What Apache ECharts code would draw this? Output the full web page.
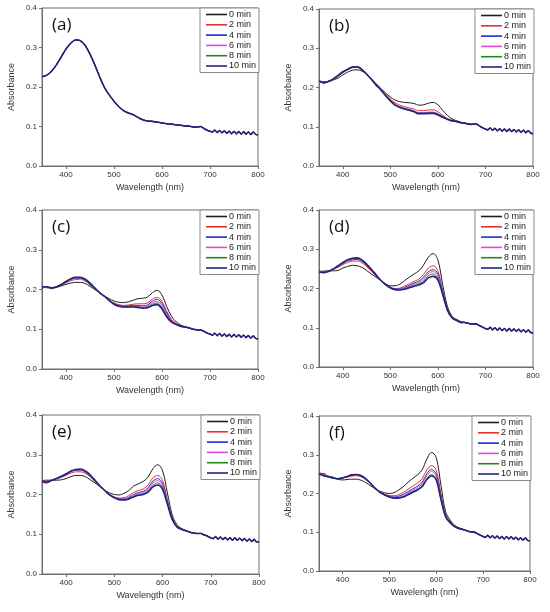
<!DOCTYPE html>
<html>
<head>
<meta charset="utf-8">
<script src="https://cdn.jsdelivr.net/npm/echarts@6/dist/echarts.min.js"></script>
<style>
html,body{margin:0;padding:0;background:#fff;}
#chart{width:550px;height:612px;}
</style>
</head>
<body>
<div id="chart"></div>
<script>
// Wavelength sample points (nm)
const wlHead = [350,360,370,380,390,400,410,420,430,440,450,460,470,480,490,500,510,520,530,540,550,560,570,580,590,600,610,620,630,640,650];
const wlTail = [655,660,665,670,675,680,685,690,695,700,705,710,715,720,725,730,735,740,745,750,755,760,765,770,775,780,785,790,795,800];

const seriesNames = ['0 min','2 min','4 min','6 min','8 min','10 min'];
const panelLabels = ['(a)','(b)','(c)','(d)','(e)','(f)'];
const xTicks = [400,500,600,700,800];
const yTicks = [0,0.1,0.2,0.3,0.4];

// Panel (a): all six spectra coincide
const aHead = [0.226,0.230,0.240,0.256,0.276,0.296,0.311,0.319,0.317,0.305,0.283,0.256,0.226,0.199,0.180,0.164,0.150,0.140,0.134,0.130,0.123,0.117,0.114,0.113,0.111,0.109,0.107,0.106,0.104,0.103,0.101];
const aTail = [0.101,0.100,0.099,0.098,0.099,0.100,0.097,0.093,0.090,0.088,0.086,0.091,0.085,0.090,0.084,0.089,0.083,0.088,0.082,0.088,0.082,0.087,0.081,0.087,0.081,0.086,0.080,0.086,0.080,0.079];

// Panel (b)
const b0  = [0.217,0.215,0.215,0.219,0.224,0.232,0.239,0.244,0.245,0.242,0.234,0.222,0.210,0.198,0.186,0.176,0.168,0.164,0.162,0.161,0.159,0.155,0.156,0.160,0.162,0.156,0.142,0.129,0.120,0.115,0.111];
const b2  = [0.215,0.213,0.216,0.220,0.228,0.237,0.245,0.250,0.251,0.246,0.236,0.222,0.208,0.196,0.183,0.171,0.161,0.155,0.151,0.148,0.145,0.141,0.141,0.143,0.143,0.138,0.129,0.121,0.116,0.113,0.111];
const b4  = [0.216,0.211,0.216,0.221,0.230,0.239,0.246,0.252,0.253,0.247,0.235,0.221,0.207,0.195,0.181,0.168,0.157,0.151,0.147,0.144,0.140,0.136,0.136,0.137,0.137,0.133,0.126,0.120,0.116,0.113,0.110];
const b6  = [0.214,0.213,0.215,0.221,0.230,0.239,0.246,0.251,0.252,0.247,0.235,0.221,0.207,0.195,0.180,0.167,0.157,0.150,0.146,0.143,0.139,0.135,0.135,0.136,0.136,0.132,0.125,0.120,0.115,0.113,0.110];
const b8  = [0.217,0.212,0.216,0.222,0.231,0.240,0.247,0.252,0.253,0.247,0.234,0.221,0.206,0.194,0.180,0.167,0.156,0.150,0.145,0.142,0.139,0.134,0.134,0.135,0.135,0.131,0.125,0.119,0.115,0.113,0.110];
const b10 = [0.217,0.212,0.216,0.222,0.231,0.240,0.246,0.252,0.253,0.246,0.234,0.221,0.206,0.194,0.179,0.166,0.155,0.149,0.145,0.142,0.138,0.133,0.133,0.134,0.134,0.130,0.124,0.119,0.115,0.113,0.110];
const bTail = [0.110,0.108,0.107,0.106,0.107,0.107,0.104,0.100,0.097,0.094,0.092,0.097,0.091,0.096,0.090,0.095,0.089,0.094,0.088,0.094,0.088,0.093,0.087,0.092,0.086,0.091,0.085,0.090,0.084,0.082];

// Panel (c)
const c0  = [0.203,0.206,0.204,0.206,0.209,0.213,0.216,0.218,0.218,0.215,0.208,0.200,0.191,0.184,0.177,0.171,0.168,0.167,0.169,0.173,0.177,0.178,0.181,0.192,0.198,0.186,0.157,0.132,0.118,0.110,0.106];
const c2  = [0.207,0.205,0.203,0.207,0.212,0.217,0.222,0.225,0.226,0.221,0.212,0.201,0.191,0.183,0.174,0.166,0.162,0.160,0.161,0.163,0.164,0.164,0.166,0.176,0.180,0.170,0.145,0.124,0.114,0.108,0.105];
const c4  = [0.206,0.207,0.202,0.207,0.213,0.219,0.225,0.228,0.228,0.223,0.213,0.202,0.191,0.183,0.173,0.165,0.160,0.158,0.159,0.160,0.160,0.159,0.161,0.171,0.175,0.165,0.141,0.121,0.113,0.108,0.105];
const c6  = [0.208,0.204,0.205,0.207,0.213,0.219,0.226,0.229,0.229,0.224,0.214,0.203,0.191,0.183,0.172,0.164,0.159,0.157,0.157,0.158,0.158,0.156,0.158,0.167,0.170,0.160,0.137,0.120,0.112,0.107,0.105];
const c8  = [0.209,0.206,0.203,0.207,0.213,0.220,0.227,0.230,0.230,0.225,0.215,0.203,0.191,0.183,0.172,0.164,0.158,0.156,0.156,0.157,0.156,0.154,0.156,0.163,0.166,0.155,0.134,0.119,0.112,0.107,0.105];
const c10 = [0.207,0.207,0.204,0.206,0.212,0.220,0.227,0.231,0.231,0.226,0.216,0.204,0.192,0.183,0.172,0.163,0.158,0.156,0.156,0.156,0.155,0.153,0.154,0.160,0.162,0.151,0.131,0.118,0.112,0.107,0.105];
const cTail = [0.104,0.102,0.100,0.099,0.098,0.098,0.096,0.093,0.090,0.088,0.085,0.090,0.084,0.089,0.083,0.088,0.082,0.087,0.081,0.087,0.081,0.086,0.080,0.085,0.079,0.084,0.078,0.083,0.077,0.076];

// Panel (d)
const d0  = [0.244,0.244,0.245,0.245,0.246,0.252,0.256,0.259,0.258,0.254,0.246,0.237,0.229,0.220,0.212,0.207,0.207,0.211,0.220,0.229,0.237,0.245,0.260,0.280,0.289,0.273,0.210,0.155,0.129,0.121,0.115];
const d2  = [0.243,0.242,0.244,0.248,0.254,0.261,0.266,0.270,0.270,0.266,0.256,0.244,0.232,0.220,0.209,0.203,0.200,0.201,0.206,0.212,0.218,0.224,0.236,0.252,0.258,0.245,0.195,0.149,0.127,0.119,0.114];
const d4  = [0.241,0.244,0.243,0.249,0.256,0.263,0.270,0.273,0.274,0.269,0.259,0.246,0.233,0.220,0.209,0.202,0.199,0.199,0.203,0.208,0.214,0.219,0.229,0.243,0.248,0.237,0.191,0.147,0.126,0.119,0.114];
const d6  = [0.244,0.241,0.245,0.249,0.257,0.264,0.271,0.275,0.276,0.271,0.260,0.247,0.234,0.221,0.209,0.201,0.198,0.198,0.201,0.206,0.211,0.215,0.224,0.238,0.243,0.232,0.189,0.146,0.126,0.118,0.113];
const d8  = [0.242,0.242,0.243,0.250,0.257,0.265,0.272,0.276,0.277,0.272,0.261,0.248,0.234,0.221,0.210,0.201,0.197,0.197,0.199,0.204,0.208,0.212,0.219,0.233,0.237,0.226,0.187,0.145,0.125,0.118,0.113];
const d10 = [0.242,0.240,0.244,0.250,0.258,0.266,0.273,0.277,0.278,0.273,0.262,0.249,0.235,0.221,0.210,0.202,0.197,0.196,0.198,0.202,0.206,0.209,0.215,0.227,0.231,0.222,0.185,0.145,0.125,0.118,0.113];
const dTail = [0.114,0.112,0.111,0.110,0.110,0.110,0.107,0.104,0.101,0.098,0.096,0.101,0.095,0.100,0.094,0.099,0.093,0.098,0.092,0.098,0.092,0.097,0.091,0.096,0.090,0.095,0.089,0.094,0.088,0.087];

// Panel (e)
const e0  = [0.235,0.236,0.236,0.236,0.237,0.240,0.245,0.248,0.248,0.245,0.237,0.229,0.220,0.211,0.204,0.200,0.199,0.203,0.210,0.221,0.227,0.233,0.244,0.265,0.275,0.260,0.204,0.149,0.124,0.114,0.109];
const e2  = [0.234,0.234,0.236,0.239,0.243,0.248,0.254,0.257,0.257,0.253,0.244,0.232,0.221,0.210,0.200,0.194,0.191,0.192,0.197,0.205,0.210,0.214,0.224,0.242,0.248,0.235,0.187,0.142,0.121,0.113,0.109];
const e4  = [0.233,0.233,0.236,0.240,0.245,0.250,0.257,0.261,0.261,0.256,0.246,0.234,0.222,0.210,0.200,0.193,0.189,0.189,0.193,0.200,0.205,0.208,0.217,0.234,0.240,0.227,0.182,0.140,0.120,0.113,0.108];
const e6  = [0.232,0.231,0.237,0.240,0.245,0.251,0.258,0.262,0.262,0.257,0.247,0.235,0.222,0.210,0.199,0.192,0.188,0.188,0.191,0.197,0.202,0.205,0.212,0.229,0.235,0.222,0.180,0.139,0.119,0.112,0.108];
const e8  = [0.234,0.232,0.235,0.240,0.246,0.252,0.258,0.263,0.263,0.258,0.248,0.235,0.222,0.210,0.199,0.192,0.187,0.187,0.190,0.195,0.199,0.202,0.209,0.223,0.229,0.217,0.178,0.138,0.119,0.112,0.108];
const e10 = [0.233,0.230,0.236,0.240,0.246,0.252,0.259,0.263,0.264,0.259,0.249,0.236,0.222,0.210,0.199,0.192,0.187,0.186,0.189,0.194,0.198,0.200,0.206,0.219,0.224,0.213,0.176,0.137,0.118,0.112,0.108];
const eTail = [0.106,0.104,0.103,0.102,0.102,0.102,0.099,0.097,0.094,0.091,0.089,0.094,0.088,0.093,0.087,0.092,0.086,0.091,0.085,0.091,0.085,0.090,0.084,0.089,0.083,0.088,0.082,0.087,0.081,0.081];

// Panel (f)
const f0  = [0.252,0.248,0.245,0.242,0.237,0.235,0.236,0.237,0.237,0.234,0.228,0.220,0.212,0.206,0.202,0.200,0.202,0.209,0.218,0.229,0.239,0.248,0.261,0.289,0.306,0.293,0.222,0.153,0.131,0.117,0.111];
const f2  = [0.255,0.249,0.244,0.241,0.239,0.240,0.242,0.245,0.246,0.243,0.236,0.226,0.214,0.205,0.198,0.195,0.194,0.197,0.203,0.211,0.219,0.227,0.238,0.261,0.272,0.260,0.200,0.146,0.128,0.115,0.110];
const f4  = [0.250,0.252,0.243,0.240,0.238,0.240,0.243,0.247,0.248,0.245,0.237,0.226,0.214,0.204,0.197,0.193,0.191,0.193,0.198,0.205,0.212,0.219,0.229,0.251,0.262,0.250,0.194,0.144,0.127,0.115,0.110];
const f6  = [0.253,0.247,0.244,0.240,0.238,0.240,0.244,0.248,0.249,0.246,0.238,0.226,0.214,0.204,0.197,0.192,0.190,0.191,0.195,0.202,0.208,0.215,0.225,0.246,0.257,0.245,0.191,0.143,0.126,0.114,0.109];
const f8  = [0.248,0.246,0.243,0.240,0.238,0.240,0.244,0.248,0.249,0.246,0.238,0.226,0.213,0.203,0.196,0.191,0.189,0.189,0.192,0.199,0.205,0.211,0.220,0.239,0.249,0.238,0.187,0.141,0.125,0.114,0.109];
const f10 = [0.252,0.246,0.243,0.240,0.238,0.240,0.244,0.248,0.249,0.246,0.238,0.226,0.213,0.203,0.196,0.191,0.188,0.188,0.191,0.197,0.203,0.209,0.218,0.236,0.245,0.235,0.185,0.140,0.124,0.114,0.109];
const fTail = [0.108,0.106,0.104,0.102,0.101,0.101,0.098,0.095,0.092,0.089,0.087,0.092,0.086,0.091,0.085,0.090,0.084,0.089,0.083,0.089,0.083,0.088,0.082,0.087,0.081,0.086,0.080,0.085,0.079,0.078];

const panelHeads = [
  [aHead,aHead,aHead,aHead,aHead,aHead],
  [b0,b2,b4,b6,b8,b10],
  [c0,c2,c4,c6,c8,c10],
  [d0,d2,d4,d6,d8,d10],
  [e0,e2,e4,e6,e8,e10],
  [f0,f2,f4,f6,f8,f10]
];
const panelTails = [aTail,bTail,cTail,dTail,eTail,fTail];

// ---- styling / layout ----
const colors = ['#1e1e1e','#e8302e','#2525d8','#e046e0','#1b8a1b','#22237a'];
const widths = [1,1,1,1,1,1.6];
const boxes = [
  {left:42, top:8,   width:216, height:158},
  {left:319,top:9,   width:214, height:157},
  {left:42, top:210, width:216, height:159},
  {left:319,top:210, width:214, height:157},
  {left:42, top:415, width:217, height:159},
  {left:319,top:416, width:211, height:155}
];
const wl = wlHead.concat(wlTail);
const axisCol = '#6e6e6e';
const fontAx = 'Liberation Sans, Arial, sans-serif';

const option = {animation:false, backgroundColor:'#fff', grid:[], xAxis:[], yAxis:[], series:[], legend:[], title:[]};

boxes.forEach((b, p) => {
  option.grid.push({left:b.left, top:b.top, width:b.width, height:b.height, show:true, borderColor:axisCol, borderWidth:1, backgroundColor:'transparent'});
  option.xAxis.push({
    type:'value', gridIndex:p, min:350, max:800,
    name:'Wavelength (nm)', nameLocation:'middle', nameGap:17,
    nameTextStyle:{fontSize:9, color:'#333', fontFamily:fontAx},
    axisLine:{show:true, onZero:false, lineStyle:{color:axisCol, width:1}},
    axisTick:{show:true, inside:false, length:3, customValues:xTicks, lineStyle:{color:axisCol}},
    axisLabel:{customValues:xTicks, fontSize:8, color:'#333', margin:5, fontFamily:fontAx},
    splitLine:{show:false}
  });
  option.yAxis.push({
    type:'value', gridIndex:p, min:0, max:0.4,
    name:'Absorbance', nameLocation:'middle', nameGap:26, nameRotate:90,
    nameTextStyle:{fontSize:9, color:'#333', fontFamily:fontAx},
    axisLine:{show:true, lineStyle:{color:axisCol, width:1}},
    axisTick:{show:true, inside:false, length:3, customValues:yTicks, lineStyle:{color:axisCol}},
    axisLabel:{customValues:yTicks, fontSize:8, color:'#333', margin:5, fontFamily:fontAx, formatter:v=>v.toFixed(1)},
    splitLine:{show:false}
  });
  panelHeads[p].forEach((head, s) => {
    const vals = head.concat(panelTails[p]);
    option.series.push({
      type:'line', name:seriesNames[s], xAxisIndex:p, yAxisIndex:p,
      data: wl.map((x,i)=>[x, vals[i]]),
      showSymbol:false, smooth:0.35, silent:true,
      lineStyle:{color:colors[s], width:widths[s]},
      itemStyle:{color:colors[s]},
      z: 2 + s
    });
  });
  option.legend.push({
    data:seriesNames, orient:'vertical',
    left: b.left + b.width - 58, top: b.top,
    icon:'rect', itemWidth:21, itemHeight:1.6, itemGap:1.3,
    padding:[2,3,2,6], borderColor:'#8a8a8a', borderWidth:1, backgroundColor:'#fff',
    textStyle:{fontSize:9, lineHeight:9, color:'#222', fontFamily:fontAx, padding:[0,0,0,-3]},
    selectedMode:false, z:10
  });
  option.title.push({
    text:panelLabels[p], left:b.left + 10, top:b.top + 9, padding:0,
    textStyle:{fontSize:17, fontWeight:'normal', color:'#111', fontFamily:'Open Sans, sans-serif'}
  });
});

const chart = echarts.init(document.getElementById('chart'), null, {renderer:'canvas'});
chart.setOption(option);
</script>
</body>
</html>
